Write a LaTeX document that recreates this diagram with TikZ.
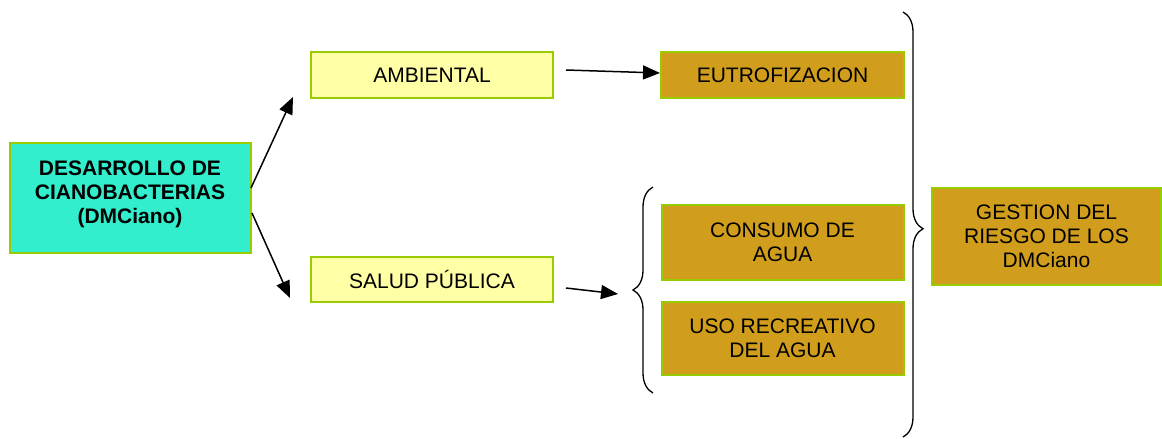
\documentclass[tikz,border=0pt]{standalone}
\usepackage{fontspec}
\setmainfont{Liberation Sans}
\usetikzlibrary{arrows.meta,decorations.pathreplacing}
\definecolor{cyanfill}{RGB}{50,238,205}
\definecolor{yelfill}{RGB}{255,255,165}
\definecolor{goldfill}{RGB}{208,158,28}
\definecolor{boxline}{RGB}{153,204,0}
\begin{document}
\begin{tikzpicture}[x=1pt,y=-1pt,
  box/.style={draw=boxline,line width=2pt,inner sep=0pt,align=center,
    font=\fontsize{21}{24}\selectfont},
  conn/.style={line width=1.5pt,-{Triangle[length=17pt,width=14pt]}},
  bracestyle/.style={line width=1.3pt,decorate,decoration={brace,amplitude=20pt}}]
\useasboundingbox (0,0) rectangle (1162,439);
\node[box,fill=cyanfill,minimum width=241pt,minimum height=110pt,font=\fontsize{21}{24}\selectfont\bfseries]
  (dm) at (130,198) {DESARROLLO DE\\CIANOBACTERIAS\\(DMCiano)\rule[-12pt]{0pt}{0pt}};
\node[box,fill=yelfill,minimum width=242pt,minimum height=46pt] (amb) at (432,75) {AMBIENTAL};
\node[box,fill=yelfill,minimum width=242pt,minimum height=45pt] (sal) at (432,279.5) {SALUD PÚBLICA};
\node[box,fill=goldfill,minimum width=243pt,minimum height=46pt] (eut) at (782.5,75) {EUTROFIZACION};
\node[box,fill=goldfill,minimum width=242pt,minimum height=75pt] (con) at (782.5,242.5) {CONSUMO DE\\AGUA};
\node[box,fill=goldfill,minimum width=242pt,minimum height=73pt] (uso) at (782.5,338.5) {USO RECREATIVO\\DEL AGUA};
\node[box,fill=goldfill,minimum width=229pt,minimum height=97pt] (ges) at (1046.5,236) {GESTION DEL\\RIESGO DE LOS\\DMCiano};
% connectors
\coordinate (a1s) at (251,188);
\coordinate (a1e) at (293,97);
\coordinate (a2s) at (252,213);
\coordinate (a2e) at (290,298);
\coordinate (a3s) at (566,70);
\coordinate (a3e) at (661,73);
\coordinate (a4s) at (566,288);
\coordinate (a4e) at (618,294);
\draw[conn] (a1s) -- (a1e);
\draw[conn] (a2s) -- (a2e);
\draw[conn] (a3s) -- (eut.west |- a3e);
\draw[conn] (a4s) -- (a4e);
% braces
\coordinate (b1s) at (653,393);
\coordinate (b1e) at (653,187);
\draw[bracestyle] (b1s) -- (b1e);
\coordinate (b2s) at (903,12);
\coordinate (b2e) at (903,437);
\draw[bracestyle,decoration={brace,amplitude=20pt,aspect=0.51}] (b2s) -- (b2e);
\end{tikzpicture}
\end{document}
